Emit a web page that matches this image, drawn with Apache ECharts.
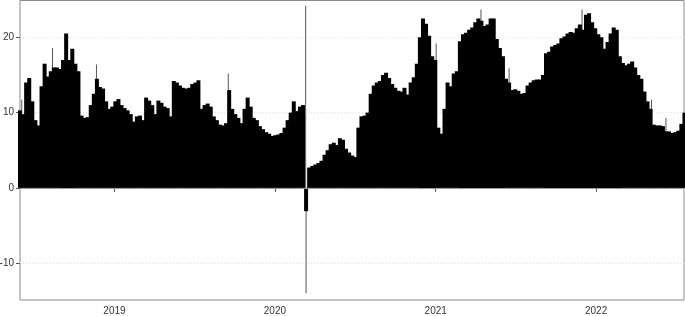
<!DOCTYPE html>
<html>
<head>
<meta charset="utf-8">
<script src="https://cdn.jsdelivr.net/npm/echarts@6/dist/echarts.min.js"></script>
<style>html,body{margin:0;padding:0;background:#fff}#c{width:685px;height:316px}</style>
</head>
<body>
<div id="c"></div>
<script>
// Weekly values starting 2018-05-31, one per 7 days
const weekStart = [2018, 4, 31];
const weeklyValues = [
10.3, 9.8, 14.0, 14.6, 11.5, 9.0, 8.3, 13.5, 16.5, 14.8,
15.5, 16.0, 16.0, 15.8, 17.0, 20.5, 17.0, 18.5, 16.5, 15.5,
9.6, 9.3, 9.4, 11.0, 12.5, 14.5, 13.4, 13.2, 11.5, 10.5,
10.8, 11.5, 11.8, 11.0, 10.6, 10.3, 9.8, 8.8, 9.5, 9.6,
9.0, 12.0, 11.6, 11.0, 9.8, 11.6, 11.3, 10.8, 10.6, 9.5,
14.2, 14.0, 13.6, 13.3, 13.2, 13.3, 13.8, 14.0, 14.3, 10.5,
11.0, 11.2, 10.8, 9.5, 9.0, 8.4, 8.3, 8.6, 13.0, 10.5,
9.8, 9.3, 8.6, 10.5, 12.0, 10.8, 9.3, 9.0, 8.2, 7.8,
7.4, 7.2, 6.9, 7.0, 7.1, 7.3, 8.0, 9.0, 10.0, 11.5,
10.2, 10.8, 11.0, -3.1, 2.7, 2.9, 3.1, 3.3, 3.6, 4.4,
5.0, 5.8, 6.0, 5.7, 6.6, 6.4, 5.2, 4.7, 4.3, 4.1,
8.0, 9.5, 9.6, 10.0, 12.5, 13.6, 14.0, 14.2, 15.0, 15.3,
14.6, 13.8, 13.3, 12.9, 12.8, 13.3, 12.4, 14.0, 14.7, 16.5,
20.0, 22.5, 21.8, 20.2, 17.5, 17.0, 8.0, 7.2, 10.5, 14.0,
13.5, 15.2, 15.5, 19.5, 20.4, 20.6, 21.0, 21.3, 22.0, 22.5,
22.2, 21.5, 21.7, 22.5, 22.5, 19.8, 18.6, 17.5, 14.5, 14.0,
13.0, 13.1, 12.9, 12.5, 12.6, 13.6, 14.0, 14.3, 14.4, 14.4,
15.0, 17.9, 18.1, 18.8, 19.0, 19.2, 19.9, 20.1, 20.5, 20.7,
20.6, 21.2, 21.7, 21.0, 23.0, 23.2, 22.0, 21.2, 20.4, 20.0,
18.5, 19.4, 20.5, 21.3, 21.0, 17.5, 16.6, 16.3, 16.5, 16.8,
16.0, 15.0, 14.5, 12.8, 11.5, 10.5, 8.4, 8.3, 8.3, 8.2,
7.5, 7.5, 7.3, 7.4, 7.6, 8.5, 10.0
];
// Single-day spikes
const spikeDates = ['2018-06-04','2018-08-13','2018-11-21','2019-09-17','2020-03-11','2020-03-12','2021-01-02','2021-04-14','2021-06-17','2021-11-30','2022-05-07','2022-06-09'];
const spikeValues = [11.7, 18.6, 16.4, 15.2, 24.2, -14.0, 19.2, 23.7, 15.9, 23.7, 11.7, 9.3];
const yearTicks = [2019, 2020, 2021, 2022];
const yTicks = [-10, 0, 10, 20];

function d(s){ const p = s.split('-').map(Number); return new Date(p[0], p[1]-1, p[2]).getTime(); }
const weekly = weeklyValues.map((v, i) => [new Date(weekStart[0], weekStart[1], weekStart[2] + 7*i).getTime(), v]);
const spikes = spikeDates.map((s, i) => [d(s), spikeValues[i]]);
const xMin = d('2018-05-31'), xMax = d('2022-07-20');
const yearVals = yearTicks.map(y => new Date(y, 0, 1).getTime());
const font = "'Liberation Sans', Arial, sans-serif";

const chart = echarts.init(document.getElementById('c'), null, {renderer: 'canvas'});
chart.setOption({
  animation: false,
  grid: {left: 20, right: 1, top: 0.5, bottom: 16, containLabel: false, outerBoundsMode: 'none',
    show: true, borderColor: '#8a8a8a', borderWidth: 1, backgroundColor: 'transparent'},
  xAxis: [{
    type: 'value', min: xMin, max: xMax, scale: true,
    axisLine: {show: false},
    axisTick: {show: true, length: 4, lineStyle: {color: '#555'}, customValues: yearVals},
    axisLabel: {color: '#333', fontSize: 10, fontFamily: font, margin: 6, customValues: yearVals,
      formatter: v => String(new Date(v).getFullYear())},
    splitLine: {show: false}
  }, {
    type: 'value', min: xMin, max: xMax, scale: true, show: false
  }],
  yAxis: {
    type: 'value', min: -14.9, max: 24.9,
    axisLine: {show: false},
    axisTick: {show: true, length: 4, lineStyle: {color: '#555'}, customValues: yTicks},
    axisLabel: {color: '#333', fontSize: 10, fontFamily: font, margin: 6, customValues: yTicks},
    splitLine: {show: true, lineStyle: {color: '#e0e0e0', type: [1, 2], width: 1}}
  },
  series: [{
    type: 'bar', xAxisIndex: 1, data: spikes, barWidth: 1, itemStyle: {color: '#555'}, clip: true
  }, {
    type: 'bar', xAxisIndex: 0, data: weekly, barWidth: 4, itemStyle: {color: '#000'},
    clip: true,
    markLine: {silent: true, symbol: 'none', label: {show: false}, lineStyle: {color: '#9a9a9a', type: 'solid', width: 1},
      data: [{yAxis: 0}]}
  }]
});
</script>
</body>
</html>
